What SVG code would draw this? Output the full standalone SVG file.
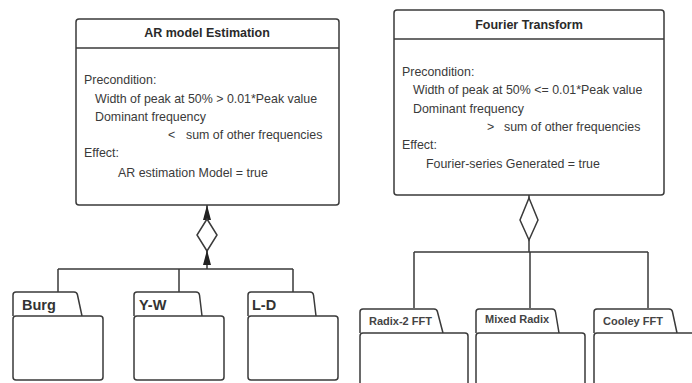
<svg xmlns="http://www.w3.org/2000/svg" width="692" height="383" viewBox="0 0 692 383">
<style>
.box{fill:#fff;stroke:#3a3a3a;stroke-width:1.5}
.ln{fill:none;stroke:#3a3a3a;stroke-width:1.5}
.title{font-family:"Liberation Sans",Arial,sans-serif;font-weight:bold;font-size:12.5px;fill:#2a2a2a;text-anchor:middle}
.body{font-family:"Liberation Sans",Arial,sans-serif;font-size:12.4px;fill:#3a3a3a}
.lbl{font-family:"Liberation Sans",Arial,sans-serif;font-weight:bold;font-size:14.5px;fill:#333}
.lbls{font-family:"Liberation Sans",Arial,sans-serif;font-weight:bold;font-size:11px;fill:#444}
.dia{fill:#fff;stroke:#3a3a3a;stroke-width:1.5}
.tri{fill:#222;stroke:none}
</style>
<g id="connectors">
  <path class="ln" d="M207 205 V269 M58 269 H293 M58 269 V292 M179 269 V292 M293 269 V292"/>
  <polygon class="tri" points="207,205 211,220 203,220"/>
  <polygon class="dia" points="207,219 217,235 207,251 197,235"/>
  <polygon class="tri" points="207,250 211,265 203,265"/>
  <path class="ln" d="M529 195 V252 M414 252 H648 M414 252 V308 M530 252 V308 M648 252 V308"/>
  <polygon class="dia" points="529,198 538,220 529,240 520,220"/>
</g>
<g id="ar-model">
  <rect class="box" x="76" y="19" width="263" height="186" rx="3"/>
  <line class="ln" x1="76" y1="48" x2="339" y2="48"/>
  <text class="title" x="207" y="37">AR model Estimation</text>
  <text class="body" x="84" y="84">Precondition:</text>
  <text class="body" x="95" y="103">Width of peak at 50% &gt; 0.01*Peak value</text>
  <text class="body" x="95" y="121">Dominant frequency</text>
  <text class="body" y="139"><tspan x="168">&lt;</tspan><tspan x="186">sum of other frequencies</tspan></text>
  <text class="body" x="84" y="157">Effect:</text>
  <text class="body" x="118" y="177">AR estimation Model = true</text>
</g>
<g id="fourier">
  <rect class="box" x="394" y="10" width="270" height="185" rx="3"/>
  <line class="ln" x1="394" y1="39" x2="664" y2="39"/>
  <text class="title" x="529" y="29">Fourier Transform</text>
  <text class="body" x="402" y="76">Precondition:</text>
  <text class="body" x="413" y="94">Width of peak at 50% &lt;= 0.01*Peak value</text>
  <text class="body" x="413" y="113">Dominant frequency</text>
  <text class="body" y="131"><tspan x="487">&gt;</tspan><tspan x="504">sum of other frequencies</tspan></text>
  <text class="body" x="402" y="149">Effect:</text>
  <text class="body" x="426" y="168">Fourier-series Generated = true</text>
</g>
<g id="burg">
  <path class="box" d="M13 316 V295 Q13 292 16 292 H74 Q77 292 77.5 295 L82 316"/>
  <rect class="box" x="13" y="316" width="90" height="64" rx="3"/>
  <text class="lbl" x="22" y="310">Burg</text>
</g>
<g id="yw">
  <path class="box" d="M134 316 V295 Q134 292 137 292 H196 Q199 292 199.5 295 L202 316"/>
  <rect class="box" x="134" y="316" width="90" height="64" rx="3"/>
  <text class="lbl" x="139" y="310">Y-W</text>
</g>
<g id="ld">
  <path class="box" d="M248 316 V295 Q248 292 251 292 H310 Q313 292 313.5 295 L316 316"/>
  <rect class="box" x="248" y="316" width="90" height="64" rx="3"/>
  <text class="lbl" x="252" y="310">L-D</text>
</g>
<g id="radix2">
  <path class="box" d="M360 333 V312 Q360 309 363 309 H434 Q437 309 437.5 312 L443 333"/>
  <rect class="box" x="360" y="333" width="108" height="70" rx="3"/>
  <text class="lbls" x="369" y="325">Radix-2 FFT</text>
</g>
<g id="mixed">
  <path class="box" d="M476 333 V312 Q476 309 479 309 H552 Q555 309 555.5 312 L559 333"/>
  <rect class="box" x="476" y="333" width="109" height="70" rx="3"/>
  <text class="lbls" x="485" y="323">Mixed Radix</text>
</g>
<g id="cooley">
  <path class="box" d="M594 333 V312 Q594 309 597 309 H669 Q672 309 672.5 312 L677 333"/>
  <rect class="box" x="594" y="333" width="120" height="70" rx="3"/>
  <text class="lbls" x="603" y="325">Cooley FFT</text>
</g>
</svg>
